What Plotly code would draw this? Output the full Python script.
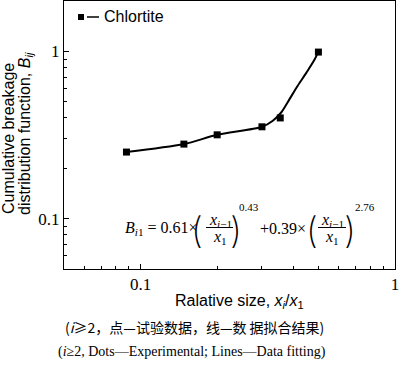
import plotly.graph_objects as go

# ---- data ----
size_ratio = [0.088, 0.148, 0.2, 0.3, 0.354, 0.5]
breakage = [0.25, 0.279, 0.317, 0.354, 0.40, 0.99]

fit_ratio = [0.088, 0.148, 0.2, 0.3, 0.331, 0.357, 0.385, 0.414, 0.448, 0.483, 0.5]
fit_breakage = [0.25, 0.279, 0.317, 0.354, 0.385, 0.431, 0.518, 0.621, 0.744, 0.893, 1.0]

major_ticks = [0.1, 1]
major_labels = ["0.1", "1"]
minor_ticks = [0.06, 0.07, 0.08, 0.09, 0.2, 0.3, 0.4, 0.5, 0.6, 0.7, 0.8, 0.9]

series_name = "Chlortite"

W, H = 400, 367
L, R, T, B = 64, 5, 1, 98
pw, ph = W - L - R, H - T - B


def px(x):
    return (x - L) / pw


def py(y):
    return (H - B - y) / ph


SERIF = "Liberation Serif"
SANS = "Liberation Sans"
CJK = "Noto Sans CJK SC"
THIN = "Inter"

fig = go.Figure()
fig.add_trace(go.Scatter(x=fit_ratio, y=fit_breakage, mode="lines",
                         line=dict(color="black", width=2, shape="spline", smoothing=0.8),
                         showlegend=False, hoverinfo="skip"))
fig.add_trace(go.Scatter(x=size_ratio, y=breakage, mode="markers", name=series_name,
                         marker=dict(symbol="square", size=7, color="black"),
                         showlegend=False))

ann = []
shapes = []


def text(x, y, t, size, font=SERIF, xa="center", ya="middle", angle=0, weight=None):
    f = dict(family=font, size=size, color="black")
    if weight is not None:
        f["weight"] = weight
    ann.append(dict(x=px(x), y=py(y), xref="paper", yref="paper", text=t,
                    showarrow=False, xanchor=xa, yanchor=ya, textangle=angle,
                    font=f))


# legend (custom)
shapes.append(dict(type="rect", xref="paper", yref="paper",
                   x0=px(78), x1=px(84), y0=py(20), y1=py(14),
                   fillcolor="black", line=dict(width=0)))
shapes.append(dict(type="line", xref="paper", yref="paper",
                   x0=px(87), x1=px(99), y0=py(17), y1=py(17),
                   line=dict(color="black", width=1.5)))
text(102, 17, series_name, 16, SANS, xa="left")

# formula
text(123, 228, "<i>B</i><sub><i>i</i>1</sub> = 0.61×", 16, xa="left")
text(197, 230, "(", 36, THIN, weight=200)
text(220, 220, "<i>x</i><sub><i>i</i>−1</sub>", 16)
shapes.append(dict(type="line", xref="paper", yref="paper",
                   x0=px(206), x1=px(233), y0=py(227.5), y1=py(227.5),
                   line=dict(color="black", width=1)))
text(220, 238, "<i>x</i><sub>1</sub>", 16)
text(236, 230, ")", 36, THIN, weight=200)
text(249, 207, "0.43", 11)
text(283, 228, "+0.39×", 16)
text(312, 230, "(", 36, THIN, weight=200)
text(332, 220, "<i>x</i><sub><i>i</i>−1</sub>", 16)
shapes.append(dict(type="line", xref="paper", yref="paper",
                   x0=px(318), x1=px(346), y0=py(227.5), y1=py(227.5),
                   line=dict(color="black", width=1)))
text(332, 238, "<i>x</i><sub>1</sub>", 16)
text(350, 230, ")", 36, THIN, weight=200)
text(365, 207, "2.76", 11)

# axis titles
text(239, 301, "Ralative size, <i>x</i><sub><i>i</i></sub>/<i>x</i><sub>1</sub>", 16, SANS)
text(8, 139, "Cumulative breakage", 16, SANS, angle=-90)
text(25, 134, "distribution function, <i>B</i><sub><i>ij</i></sub>", 16, SANS, angle=-90)

# captions
text(194, 327, "(<i>i</i>≥2，点—试验数据，线—数 据拟合结果)", 14, CJK)
text(192, 352, "(<i>i</i>≥2, Dots—Experimental; Lines—Data fitting)", 14, SERIF)

axis_common = dict(type="log", showgrid=False, zeroline=False, showline=True,
                   linecolor="black", linewidth=1, mirror=True,
                   ticks="inside", ticklen=5, tickcolor="black", tickwidth=1,
                   tickvals=major_ticks, ticktext=major_labels,
                   tickfont=dict(family=SERIF, size=17, color="black"),
                   minor=dict(tickvals=minor_ticks, ticks="inside", ticklen=3,
                              tickcolor="black", tickwidth=1, showgrid=False))

fig.update_layout(
    width=W, height=H, margin=dict(l=L, r=R, t=T, b=B),
    plot_bgcolor="white", paper_bgcolor="white",
    font=dict(family=SERIF),
    xaxis=dict(range=[-1.301, 0], **axis_common),
    yaxis=dict(range=[-1.301, 0.301], **axis_common),
    annotations=ann, shapes=shapes, showlegend=False,
)

fig.write_html("out.html", config={"displayModeBar": False},
               post_script="document.body.style.margin='0';document.body.style.overflow='hidden';")
